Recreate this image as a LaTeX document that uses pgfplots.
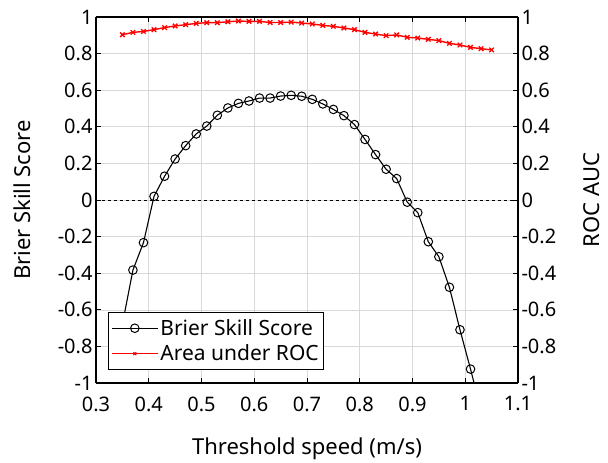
\documentclass[border=0pt]{standalone}
\usepackage{pgfplots}
\pgfplotsset{compat=1.18}
\usepackage{fontspec}
\setmainfont{Noto Sans}
\pgfplotstableread{
x y
0.35 -0.68
0.37 -0.383
0.39 -0.233
0.41 0.020
0.43 0.130
0.45 0.224
0.47 0.297
0.49 0.361
0.51 0.404
0.53 0.463
0.55 0.503
0.57 0.528
0.59 0.541
0.61 0.557
0.63 0.557
0.65 0.568
0.67 0.572
0.69 0.567
0.71 0.550
0.73 0.525
0.75 0.495
0.77 0.461
0.79 0.412
0.81 0.331
0.83 0.248
0.85 0.168
0.87 0.117
0.89 -0.012
0.91 -0.069
0.93 -0.228
0.95 -0.310
0.97 -0.477
0.99 -0.709
1.01 -0.924
1.03 -1.15
}\bss
\pgfplotstableread{
x y
0.35 0.903
0.37 0.916
0.39 0.921
0.41 0.931
0.43 0.942
0.45 0.951
0.47 0.958
0.49 0.965
0.51 0.969
0.53 0.969
0.55 0.974
0.57 0.978
0.59 0.976
0.61 0.976
0.63 0.970
0.65 0.970
0.67 0.972
0.69 0.967
0.71 0.962
0.73 0.954
0.75 0.949
0.77 0.940
0.79 0.931
0.81 0.916
0.83 0.907
0.85 0.898
0.87 0.902
0.89 0.889
0.91 0.885
0.93 0.878
0.95 0.871
0.97 0.856
0.99 0.847
1.01 0.834
1.03 0.827
1.05 0.820
}\roc
\begin{document}
\begin{tikzpicture}
\useasboundingbox (-96pt,-80pt) rectangle (512pt,383pt);
\pgfplotsset{every axis/.append style={
  scale only axis, width=422pt, height=366pt,
  xmin=0.3, xmax=1.1, ymin=-1, ymax=1,
  xtick={0.3,0.4,...,1.1}, ytick={-1,-0.8,...,1},
  /pgf/number format/assume math mode=true,
  tick label style={font=\fontsize{20}{24}\selectfont},
  label style={font=\fontsize{22}{26}\selectfont},
  tick style={black, line width=0.8pt}, major tick length=5pt,
  tick align=inside,
  axis line style={line width=1.1pt, black},
  yticklabel style={/pgf/number format/fixed, /pgf/number format/precision=1},
  xticklabel style={/pgf/number format/fixed, /pgf/number format/precision=1, yshift=-10pt},
}}
\begin{axis}[
  axis y line*=left, axis x line*=box,
  xtick pos=both,
  grid=major, grid style={gray!30, line width=0.6pt},
  xlabel={Threshold speed (m/s)}, ylabel={Brier Skill Score},
  xlabel style={at={(0.5,0)}, anchor=center, yshift=-66pt},
  ylabel style={at={(0,0.5)}, anchor=center, rotate=0, yshift=74pt},
  legend style={at={(0.028,0.036)}, anchor=south west, draw=black, line width=0.8pt,
    font=\fontsize{21}{25}\selectfont, fill=white, inner xsep=3pt, inner ysep=5pt, row sep=4pt,
    cells={anchor=west}},
  legend image code/.code={\draw[mark repeat=2,mark phase=2,#1] plot coordinates {(0pt,0pt) (23pt,0pt) (46pt,0pt)};},
]
\addplot[black, dashed, line width=0.7pt, forget plot] coordinates {(0.3,0) (1.1,0)};
\addplot[black, line width=1.1pt, mark=o, mark size=4.3pt, mark options={line width=1pt}] table[x=x,y=y]{\bss};
\addlegendentry{Brier Skill Score}
\addlegendimage{red, line width=1.2pt, mark=x, mark size=2pt, mark options={line width=1.2pt}}
\addlegendentry{Area under ROC}
\end{axis}
\begin{axis}[
  axis y line*=right, axis x line=none,
  ylabel={ROC AUC},
  ylabel style={at={(1,0.5)}, anchor=center, yshift=-74pt},
]
\addplot[red, line width=1.4pt, mark=x, mark size=3.2pt, mark options={line width=1.3pt}] table[x=x,y=y]{\roc};
\end{axis}
\end{tikzpicture}
\end{document}
